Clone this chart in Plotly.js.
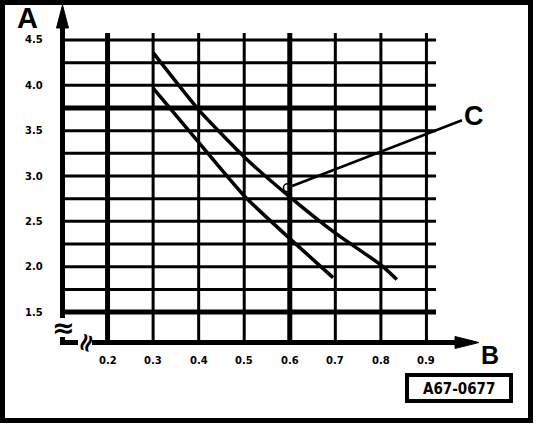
<!DOCTYPE html>
<html>
<head>
<meta charset="utf-8">
<script src="https://cdn.plot.ly/plotly-3.0.1.min.js"></script>
<style>html,body{margin:0;padding:0;background:#fff;}#chart{width:544px;height:426px;}</style>
</head>
<body>
<div id="chart"></div>
<script>
// ---- data ----
const upperX = [0.30, 0.40, 0.50, 0.60, 0.70, 0.80, 0.835];
const upperY = [4.36, 3.73, 3.21, 2.77, 2.37, 2.02, 1.86];
const lowerX = [0.30, 0.40, 0.50, 0.60, 0.695];
const lowerY = [3.97, 3.37, 2.78, 2.31, 1.88];
const calloutX = [0.595];
const calloutY = [2.87];
const calloutLabel = "C";
const xTickVals = [0.2, 0.3, 0.4, 0.5, 0.6, 0.7, 0.8, 0.9];
const xTickText = ["0.2", "0.3", "0.4", "0.5", "0.6", "0.7", "0.8", "0.9"];
const yTickVals = [1.5, 2.0, 2.5, 3.0, 3.5, 4.0, 4.5];
const yTickText = ["1.5", "2.0", "2.5", "3.0", "3.5", "4.0", "4.5"];
const yGridVals = [1.5, 1.75, 2.0, 2.25, 2.5, 2.75, 3.0, 3.25, 3.5, 3.75, 4.0, 4.25, 4.5];
const xThick = [0.2, 0.6];
const yThick = [1.5, 3.75];
const yAxisName = "A";
const xAxisName = "B";
const figureCode = "A67-0677";

// ---- layout geometry ----
const W = 544, H = 426;
const ML = 62, MT = 5, PW = 410, PH = 337;
const MR = W - ML - PW, MB = H - MT - PH;
const X_RANGE = [0.1, 1.0];
const Y_RANGE = [1.17, 1.17 + PH / 90.7];
const GRID_TOP = 4.578, GRID_RIGHT = 0.921;

const fx = p => (p - ML) / PW;          // pixel x -> paper
const fy = p => (MT + PH - p) / PH;     // pixel y -> paper

const shapes = [];
xTickVals.forEach(v => {
  shapes.push({type: 'line', xref: 'x', yref: 'y', layer: 'below',
    x0: v, x1: v, y0: Y_RANGE[0], y1: GRID_TOP,
    line: {color: '#000', width: xThick.includes(v) ? 5 : 3}});
});
yGridVals.forEach(v => {
  shapes.push({type: 'line', xref: 'x', yref: 'y', layer: 'below',
    x0: X_RANGE[0], x1: GRID_RIGHT, y0: v, y1: v,
    line: {color: '#000', width: yThick.includes(v) ? 5 : 3}});
});
// axes with arrows
shapes.push({type: 'line', xref: 'paper', yref: 'paper', x0: fx(62.5), x1: fx(62.5), y0: fy(345), y1: fy(24), line: {color: '#000', width: 5}});
shapes.push({type: 'path', xref: 'paper', yref: 'paper', fillcolor: '#000', line: {color: '#000', width: 1},
  path: `M ${fx(62.5)} ${fy(5)} L ${fx(56.5)} ${fy(28)} L ${fx(68.5)} ${fy(28)} Z`});
shapes.push({type: 'line', xref: 'paper', yref: 'paper', x0: fx(60), x1: fx(460), y0: fy(342.5), y1: fy(342.5), line: {color: '#000', width: 5}});
shapes.push({type: 'path', xref: 'paper', yref: 'paper', fillcolor: '#000', line: {color: '#000', width: 1},
  path: `M ${fx(479)} ${fy(342.5)} L ${fx(455)} ${fy(336.5)} L ${fx(455)} ${fy(348.5)} Z`});
// axis break gaps
shapes.push({type: 'rect', xref: 'paper', yref: 'paper', x0: fx(58), x1: fx(67), y0: fy(337), y1: fy(318), fillcolor: '#fff', line: {width: 0}});
shapes.push({type: 'rect', xref: 'paper', yref: 'paper', x0: fx(78), x1: fx(92), y0: fy(346), y1: fy(339), fillcolor: '#fff', line: {width: 0}});
// code box
shapes.push({type: 'rect', xref: 'paper', yref: 'paper', x0: fx(407), x1: fx(511), y0: fy(401), y1: fy(375), line: {color: '#000', width: 4}, fillcolor: '#fff'});
// outer frame
shapes.push({type: 'rect', xref: 'paper', yref: 'paper', x0: fx(2.5), x1: fx(530.5), y0: fy(420.5), y1: fy(2.5), line: {color: '#000', width: 5}});

const tickFont = {family: 'DejaVu Sans', size: 10, color: '#000'};
const annotations = [];
xTickVals.forEach((v, i) => annotations.push({xref: 'x', yref: 'paper', x: v, y: fy(360), text: '<b>' + xTickText[i] + '</b>', showarrow: false, xanchor: 'center', yanchor: 'middle', font: tickFont}));
yTickVals.forEach((v, i) => annotations.push({xref: 'paper', yref: 'y', x: fx(34), y: v, text: '<b>' + yTickText[i] + '</b>', showarrow: false, xanchor: 'center', yanchor: 'middle', font: tickFont}));
annotations.push({xref: 'paper', yref: 'paper', x: fx(27), y: fy(18), text: '<b>' + yAxisName + '</b>', showarrow: false, xanchor: 'center', yanchor: 'middle', font: {family: 'Liberation Sans', size: 29, color: '#000'}});
annotations.push({xref: 'paper', yref: 'paper', x: fx(490), y: fy(355), text: '<b>' + xAxisName + '</b>', showarrow: false, xanchor: 'center', yanchor: 'middle', font: {family: 'Liberation Sans', size: 25, color: '#000'}});
annotations.push({xref: 'paper', yref: 'paper', x: fx(459), y: fy(388.5), text: '<b>' + figureCode + '</b>', showarrow: false, xanchor: 'center', yanchor: 'middle', font: {family: 'DejaVu Sans Condensed', size: 15, color: '#000'}});
// axis break marks
annotations.push({xref: 'paper', yref: 'paper', x: fx(63), y: fy(327), text: '<b>≈</b>', showarrow: false, xanchor: 'center', yanchor: 'middle', font: {family: 'DejaVu Sans', size: 27, color: '#000'}});
annotations.push({xref: 'paper', yref: 'paper', x: fx(85), y: fy(343), text: '<b>≈</b>', textangle: -72, showarrow: false, xanchor: 'center', yanchor: 'middle', font: {family: 'DejaVu Sans', size: 25, color: '#000'}});
// callout C
annotations.push({xref: 'x', yref: 'y', x: calloutX[0], y: calloutY[0], text: '<b>' + calloutLabel + '</b>', showarrow: true, arrowhead: 0, arrowwidth: 2.5, arrowcolor: '#000', standoff: 5, ax: 186, ay: -72, font: {family: 'Liberation Sans', size: 27, color: '#000'}});

const traces = [
  {x: upperX, y: upperY, type: 'scatter', mode: 'lines', line: {color: '#000', width: 3.5, shape: 'spline', smoothing: 0.5}, hoverinfo: 'skip'},
  {x: lowerX, y: lowerY, type: 'scatter', mode: 'lines', line: {color: '#000', width: 3.5, shape: 'spline', smoothing: 0.5}, hoverinfo: 'skip'},
  {x: calloutX, y: calloutY, type: 'scatter', mode: 'markers', marker: {symbol: 'circle-open', size: 8, color: '#000', line: {width: 1.5, color: '#000'}}, hoverinfo: 'skip'}
];

const layout = {
  width: W, height: H,
  margin: {l: ML, r: MR, t: MT, b: MB, pad: 0},
  paper_bgcolor: '#fff', plot_bgcolor: 'rgba(0,0,0,0)',
  showlegend: false,
  xaxis: {range: X_RANGE, showgrid: false, zeroline: false, showticklabels: false, showline: false, ticks: '', fixedrange: true},
  yaxis: {range: Y_RANGE, showgrid: false, zeroline: false, showticklabels: false, showline: false, ticks: '', fixedrange: true},
  shapes: shapes,
  annotations: annotations
};

Plotly.newPlot('chart', traces, layout, {displayModeBar: false, staticPlot: true});
</script>
</body>
</html>
